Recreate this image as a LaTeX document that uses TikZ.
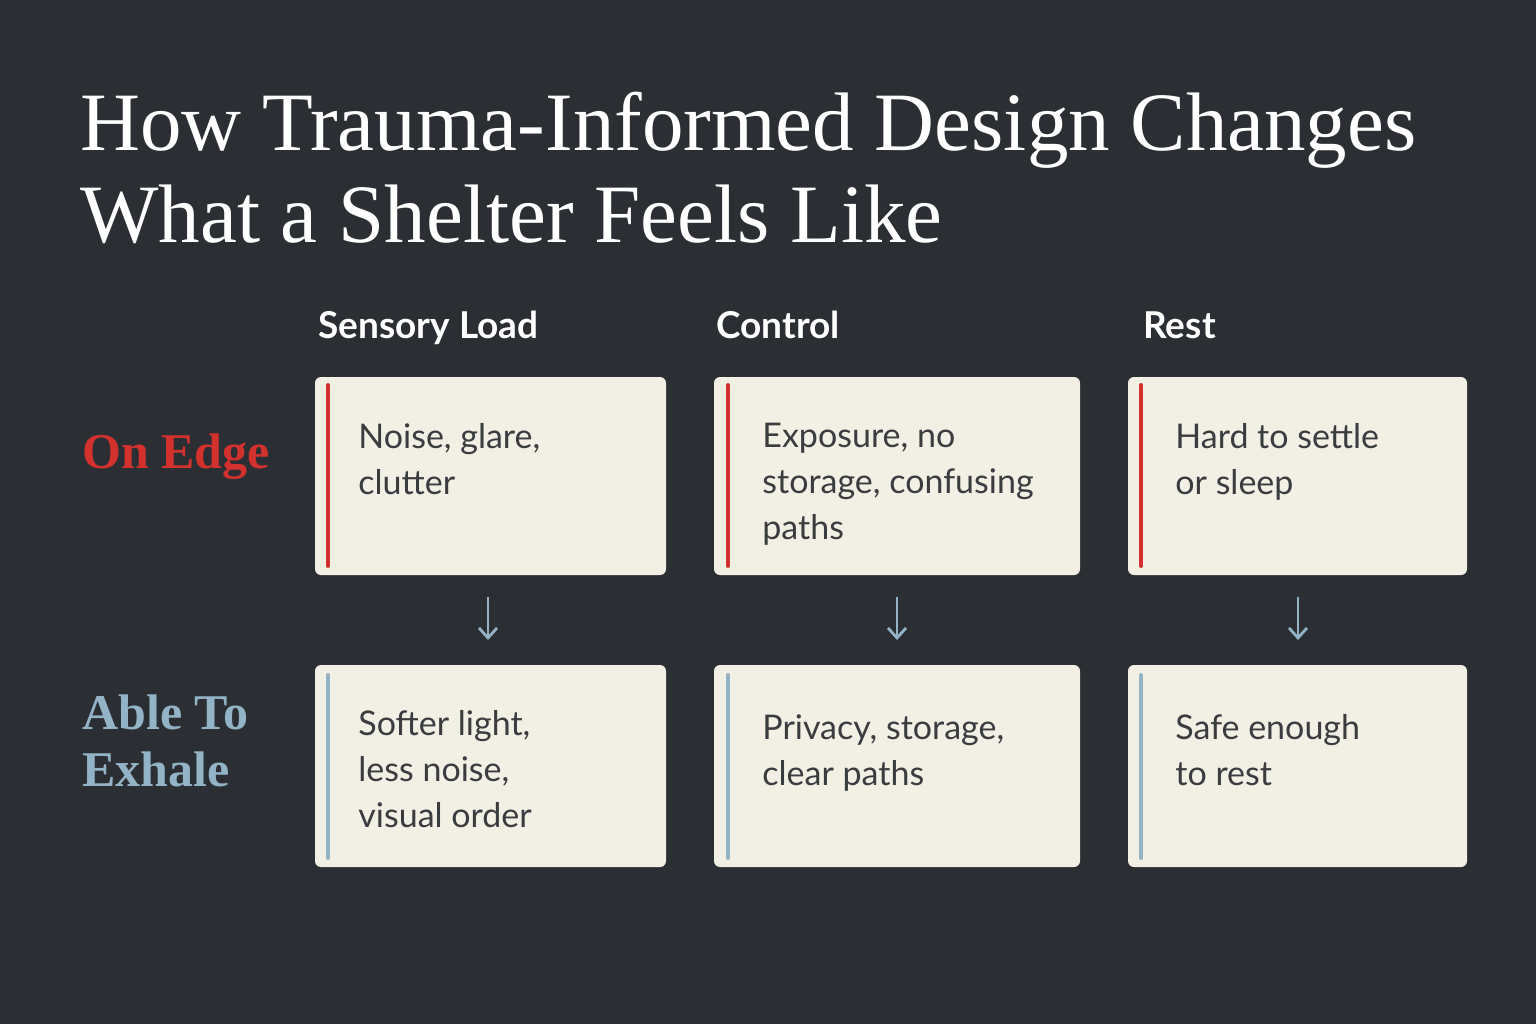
\documentclass[tikz,border=0pt]{standalone}
\usepackage{fontspec}
\setmainfont{Liberation Serif}
\newfontfamily\bodyf{Lato}
\usetikzlibrary{arrows.meta}
\definecolor{bg}{HTML}{2B2E33}
\definecolor{card}{HTML}{F2F0E4}
\definecolor{edge}{HTML}{D3312E}
\definecolor{calm}{HTML}{93B3C6}
\definecolor{ink}{HTML}{3A3C40}
\begin{document}
\begin{tikzpicture}[x=0.5pt,y=-0.5pt,
  card/.style={fill=card,rounded corners=3pt,draw=none},
  body/.style={anchor=base west,inner sep=0,align=left,text=ink,font=\bodyf\fontsize{17}{22.8}\selectfont},
  head/.style={anchor=base west,inner sep=0,text=white,font=\bodyf\bfseries\fontsize{18.5}{22}\selectfont},
  lab/.style={anchor=base west,inner sep=0,align=left,font=\bfseries\fontsize{25}{28}\selectfont},
  bar/.style={line width=2pt,line cap=round},
  arr/.style={draw=calm,line width=1.4pt,-{Straight Barb[length=5pt,width=9pt]}}]
\fill[bg] (0,0) rectangle (1536,1024);
\useasboundingbox (0,0) rectangle (1536,1024);
\node[anchor=base west,inner sep=0,align=left,text=white,font=\fontsize{41.5}{46}\selectfont] (title) at (80,242) {How Trauma-Informed Design Changes\\What a Shelter Feels Like};
\node[head] (h1) at (318,338) {Sensory Load};
\node[head] (h2) at (716,338) {Control};
\node[head] (h3) at (1143,338) {Rest};
\node[lab,text=edge] (l1) at (82,468) {On Edge};
\node[lab,text=calm,font=\bfseries\fontsize{25}{28.5}\selectfont] (l2) at (82,786) {Able To\\Exhale};
% cards
\path[card] (315,377) rectangle (666,575);
\path[card] (714,377) rectangle (1080,575);
\path[card] (1128,377) rectangle (1467,575);
\path[card] (315,665) rectangle (666,867);
\path[card] (714,665) rectangle (1080,867);
\path[card] (1128,665) rectangle (1467,867);
\draw[bar,edge] (328,385) -- (328,566);
\draw[bar,edge] (728,385) -- (728,566);
\draw[bar,edge] (1141,385) -- (1141,566);
\draw[bar,calm] (328,675) -- (328,858);
\draw[bar,calm] (728,675) -- (728,858);
\draw[bar,calm] (1141,675) -- (1141,858);
\node[body] (t11) at (358,494) {Noise, glare,\\clutter};
\node[body] (t12) at (762,539) {Exposure, no\\storage, confusing\\paths};
\node[body] (t13) at (1175,494) {Hard to settle\\or sleep};
\node[body] (t21) at (358,827) {Softer light,\\less noise,\\visual order};
\node[body] (t22) at (762,785) {Privacy, storage,\\clear paths};
\node[body] (t23) at (1175,785) {Safe enough\\to rest};
\coordinate (a1s) at (488,597); \coordinate (a1e) at (488,640);
\coordinate (a2s) at (897,597); \coordinate (a2e) at (897,640);
\coordinate (a3s) at (1298,597); \coordinate (a3e) at (1298,640);
\draw[arr] (a1s) -- (a1e);
\draw[arr] (a2s) -- (a2e);
\draw[arr] (a3s) -- (a3e);
\end{tikzpicture}
\end{document}
